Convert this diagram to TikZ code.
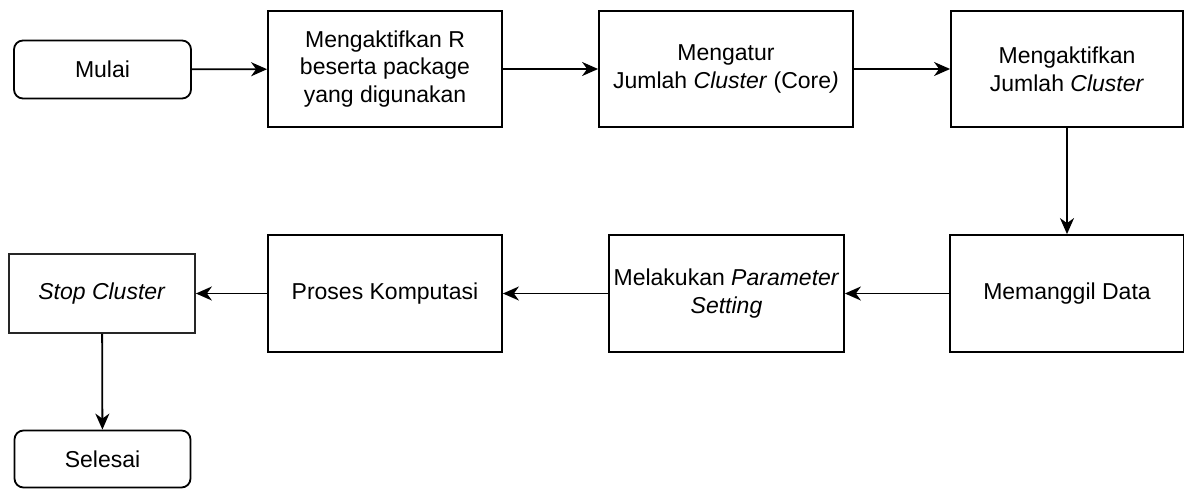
\documentclass[tikz,border=0pt]{standalone}
\usepackage{fontspec}
\setmainfont{Liberation Sans}
\usetikzlibrary{arrows.meta}
\begin{document}
\begin{tikzpicture}[x=1pt,y=-1pt,
  every node/.style={font=\fontsize{23}{27.6}\selectfont, align=center, inner sep=0pt},
  procbox/.style={draw, line width=1.8pt, minimum width=234pt, minimum height=116pt},
  termbox/.style={draw, line width=1.8pt, rounded corners=9pt, minimum width=177pt, minimum height=58pt},
  flow/.style={draw, line width=1.8pt, -{Stealth[length=16pt,width=14pt,inset=5pt]}}]
  \useasboundingbox (0,0) rectangle (1184,488);

  % top row
  \node[termbox] (mulai) at (102.5,69.5) {Mulai};
  \node[procbox] (aktifR) at (385,69) {Mengaktifkan R\\beserta package\\yang digunakan};
  \node[procbox, minimum width=254pt] (atur) at (726,69) {Mengatur\\Jumlah \textit{Cluster} (Core\textit{)}};
  \node[procbox, minimum width=232pt] (aktifC) at (1067,69) {Mengaktifkan\\Jumlah \textit{Cluster}};

  % bottom row
  \node[procbox, minimum height=117pt] (data) at (1067,293.5) {Memanggil Data};
  \node[procbox, minimum height=117pt, minimum width=235pt] (param) at (726.5,293.5) {Melakukan \textit{Parameter}\\\textit{Setting}};
  \node[procbox, minimum height=117pt] (komp) at (385,293.5) {Proses Komputasi};
  \node[procbox, minimum width=186pt, minimum height=79pt, draw=black!85] (stop) at (102,293.5) {\textit{Stop Cluster}};
  \node[termbox, minimum width=176pt, minimum height=57pt] (selesai) at (102.5,459) {Selesai};

  % connectors
  \draw[flow] (mulai) -- (aktifR);
  \draw[flow] (aktifR) -- (atur);
  \draw[flow] (atur) -- (aktifC);
  \draw[flow] (aktifC) -- (data);
  \draw[flow] (data) -- (param);
  \draw[flow] (param) -- (komp);
  \draw[flow] (komp) -- (stop);
  \draw[flow] (stop) -- (selesai);
\end{tikzpicture}
\end{document}
